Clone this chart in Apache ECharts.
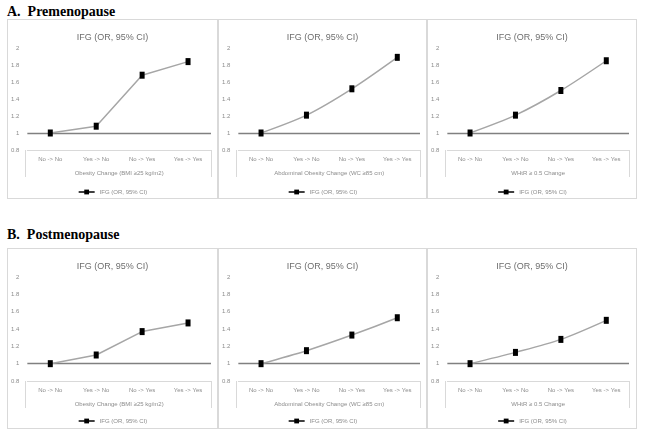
<!DOCTYPE html>
<html>
<head>
<meta charset="utf-8">
<script src="https://cdn.jsdelivr.net/npm/echarts@6/dist/echarts.min.js"></script>
<style>
  body { margin: 0; background: #fff; width: 649px; height: 431px; position: relative; overflow: hidden; }
  .heading { position: absolute; left: 7px; font: bold 14px "Liberation Serif", serif; color: #000; line-height: 15px; }
  .panel { position: absolute; border: 1px solid #d9d9d9; }
  .panel div.chart { width: 100%; height: 100%; }
</style>
</head>
<body>
<div class="heading" style="top:4px">A.&nbsp; Premenopause</div>
<div class="heading" style="top:227px">B.&nbsp; Postmenopause</div>
<div class="panel" style="left:7px;top:19px;width:209px;height:178px"><div class="chart" id="c0"></div></div>
<div class="panel" style="left:218px;top:19px;width:207px;height:178px"><div class="chart" id="c1"></div></div>
<div class="panel" style="left:427px;top:19px;width:208px;height:178px"><div class="chart" id="c2"></div></div>
<div class="panel" style="left:7px;top:248px;width:209px;height:179px"><div class="chart" id="c3"></div></div>
<div class="panel" style="left:218px;top:248px;width:207px;height:179px"><div class="chart" id="c4"></div></div>
<div class="panel" style="left:427px;top:248px;width:208px;height:179px"><div class="chart" id="c5"></div></div>
<script>
// data
const categories = ['No -> No', 'Yes -> No', 'No -> Yes', 'Yes -> Yes'];
const seriesName = 'IFG (OR, 95% CI)';
const axisTitles = [
  'Obesity Change (BMI \u226525 kg/m2)',
  'Abdominal Obesity Change (WC \u226585 cm)',
  'WHtR \u2265 0.5 Change'
];
const preBmi = [1, 1.08, 1.68, 1.84];
const preWc = [1, 1.21, 1.52, 1.89];
const preWhtr = [1, 1.21, 1.50, 1.85];
const postBmi = [1, 1.10, 1.37, 1.47];
const postWc = [1, 1.15, 1.33, 1.53];
const postWhtr = [1, 1.13, 1.28, 1.50];
const refValue = 1;

const panels = [
  { id: 'c0', values: preBmi, title: axisTitles[0], smooth: false, width: 186 },
  { id: 'c1', values: preWc, title: axisTitles[1], smooth: true, width: 184 },
  { id: 'c2', values: preWhtr, title: axisTitles[2], smooth: true, width: 184 },
  { id: 'c3', values: postBmi, title: axisTitles[0], smooth: false, width: 186 },
  { id: 'c4', values: postWc, title: axisTitles[1], smooth: true, width: 184 },
  { id: 'c5', values: postWhtr, title: axisTitles[2], smooth: true, width: 184 }
];

const font = '"Liberation Sans", sans-serif';
const labelColor = '#8c8c8c';

panels.forEach(function (p, i) {
  const el = document.getElementById(p.id);
  const chart = echarts.init(el);
  const gridTop = 28;
  const gridH = i < 3 ? 102 : 104;
  const gridLeft = 17;
  const gridBottomY = gridTop + gridH;
  const boxBottom = gridBottomY + 27;

  const option = {
    animation: false,
    textStyle: { fontFamily: font },
    title: {
      text: seriesName,
      left: 'center',
      top: 8,
      textStyle: { fontSize: 9, fontWeight: 'normal', color: '#6e6e6e', fontFamily: font }
    },
    legend: {
      data: [seriesName],
      left: 'center',
      top: 164,
      itemWidth: 16,
      itemHeight: 6,
      itemGap: 4,
      lineStyle: { color: '#404040' },
      textStyle: { fontSize: 6, color: labelColor, fontFamily: font }
    },
    grid: { left: gridLeft, top: gridTop, width: p.width, height: gridH },
    xAxis: {
      type: 'category',
      data: categories,
      axisLine: { lineStyle: { color: '#d9d9d9', width: 1 } },
      axisTick: { show: false },
      axisLabel: { fontSize: 6, color: labelColor, margin: 6, fontFamily: font },
      name: p.title,
      nameLocation: 'middle',
      nameGap: 20,
      nameTextStyle: { fontSize: 6, color: labelColor, fontFamily: font }
    },
    yAxis: {
      type: 'value',
      min: 0.8,
      max: 2,
      interval: 0.2,
      axisLine: { show: false },
      axisTick: { show: false },
      splitLine: { show: false },
      axisLabel: { fontSize: 6, color: labelColor, margin: 8, fontFamily: font }
    },
    graphic: [
      {
        type: 'polyline',
        shape: { points: [[gridLeft + 0.5, gridBottomY], [gridLeft + 0.5, boxBottom]] },
        style: { stroke: '#d9d9d9', lineWidth: 1 },
        silent: true
      },
      {
        type: 'polyline',
        shape: { points: [[gridLeft + p.width + 0.5, gridBottomY], [gridLeft + p.width + 0.5, boxBottom]] },
        style: { stroke: '#d9d9d9', lineWidth: 1 },
        silent: true
      }
    ],
    series: [
      {
        name: seriesName,
        type: 'line',
        data: p.values,
        smooth: p.smooth ? 0.3 : false,
        symbol: 'rect',
        symbolSize: [5, 7],
        itemStyle: { color: '#000' },
        lineStyle: { color: '#a6a6a6', width: 1.5 },
        z: 3,
        markLine: {
          silent: true,
          symbol: 'none',
          label: { show: false },
          lineStyle: { color: '#808080', width: 1.3, type: 'solid' },
          data: [{ yAxis: refValue }],
          z: 2
        }
      }
    ]
  };
  chart.setOption(option);
});
</script>
</body>
</html>
